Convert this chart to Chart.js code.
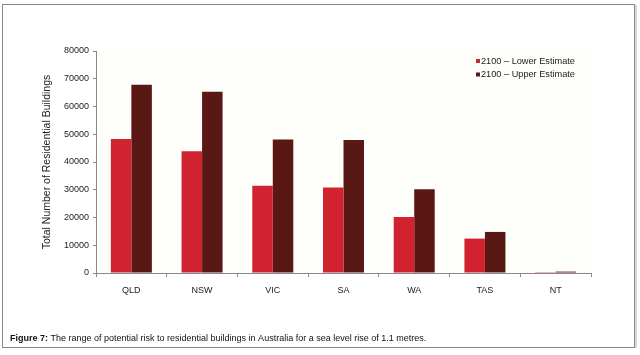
<!DOCTYPE html>
<html>
<head>
<meta charset="utf-8">
<script src="https://cdn.jsdelivr.net/npm/chart.js@4/dist/chart.umd.min.js"></script>
<style>
html,body{margin:0;padding:0;background:#fff;}
#wrap{width:640px;height:355px;position:relative;}
</style>
</head>
<body>
<div id="wrap"><canvas id="c" width="640" height="355"></canvas></div>
<script>
const categories = ['QLD','NSW','VIC','SA','WA','TAS','NT'];
const lowerEstimate = [48300, 43900, 31400, 30800, 20200, 12400, 300];
const upperEstimate = [67800, 65300, 48100, 47900, 30200, 14800, 500];
const seriesLabels = ['2100 \u2013 Lower Estimate', '2100 \u2013 Upper Estimate'];
const seriesColors = ['#d1232f', '#5a1815'];
const yTicks = [0,10000,20000,30000,40000,50000,60000,70000,80000];
const yTitle = 'Total Number of Residential Buildings';
const captionBold = 'Figure 7:';
const captionText = ' The range of potential risk to residential buildings in Australia for a sea level rise of 1.1 metres.';

const FONT = "'Liberation Sans', Arial, sans-serif";
Chart.defaults.font.family = FONT;
Chart.defaults.color = '#222';

const framePlugin = {
  id: 'frame',
  beforeDraw(chart) {
    const ctx = chart.ctx, a = chart.chartArea;
    ctx.save();
    ctx.fillStyle = '#fff';
    ctx.fillRect(0, 0, chart.width, chart.height);
    ctx.fillStyle = '#fefefb';
    ctx.fillRect(a.left, a.top, a.right - a.left, a.bottom - a.top);
    ctx.restore();
  },
  afterDraw(chart) {
    const ctx = chart.ctx;
    ctx.save();
    ctx.strokeStyle = '#8a8a8a';
    ctx.lineWidth = 1;
    ctx.strokeRect(2.5, 4.5, 632, 343);
    ctx.strokeStyle = '#b0b0b0';
    ctx.beginPath(); ctx.moveTo(636, 5); ctx.lineTo(636, 348); ctx.stroke();
    // legend
    ctx.font = '9.2px ' + FONT;
    ctx.textBaseline = 'middle';
    chart.data.datasets.forEach((ds, i) => {
      const y = 61 + i * 13.5;
      ctx.fillStyle = ds.backgroundColor;
      ctx.fillRect(476, y - 2, 4, 4);
      ctx.fillStyle = '#222';
      ctx.fillText(ds.label, 481, y);
    });
    // caption
    ctx.font = 'bold 9px ' + FONT;
    ctx.fillStyle = '#111';
    ctx.fillText(captionBold, 10, 339);
    const w = ctx.measureText(captionBold).width;
    ctx.font = '9px ' + FONT;
    ctx.fillText(captionText, 10 + w, 339);
    ctx.restore();
  }
};

new Chart(document.getElementById('c'), {
  type: 'bar',
  data: {
    labels: categories,
    datasets: [
      { label: seriesLabels[0], data: lowerEstimate, backgroundColor: seriesColors[0], borderWidth: 0 },
      { label: seriesLabels[1], data: upperEstimate, backgroundColor: seriesColors[1], borderWidth: 0 }
    ]
  },
  options: {
    responsive: false,
    animation: false,
    devicePixelRatio: 1,
    layout: { padding: { top: 51, right: 49, left: 0, bottom: 0 } },
    plugins: { legend: { display: false }, tooltip: { enabled: false } },
    datasets: { bar: { categoryPercentage: 0.58, barPercentage: 1.0 } },
    scales: {
      x: {
        grid: { drawOnChartArea: false, tickLength: 4, color: '#888', offset: true },
        border: { color: '#888' },
        ticks: { font: { size: 9 }, color: '#222', padding: 8, maxRotation: 0 },
        afterFit(s) { s.height = 82; }
      },
      y: {
        min: 0, max: 80000,
        afterBuildTicks(s) { s.ticks = yTicks.map(v => ({ value: v })); },
        grid: { drawOnChartArea: false, tickLength: 3, color: '#888' },
        border: { color: '#888' },
        ticks: { font: { size: 9 }, color: '#222', padding: 4, callback: v => String(v) },
        title: { display: true, text: yTitle, font: { size: 10.5 }, color: '#222', padding: { top: 41, bottom: 0 } },
        afterFit(s) { s.width = 96; }
      }
    }
  },
  plugins: [framePlugin]
});
</script>
</body>
</html>
